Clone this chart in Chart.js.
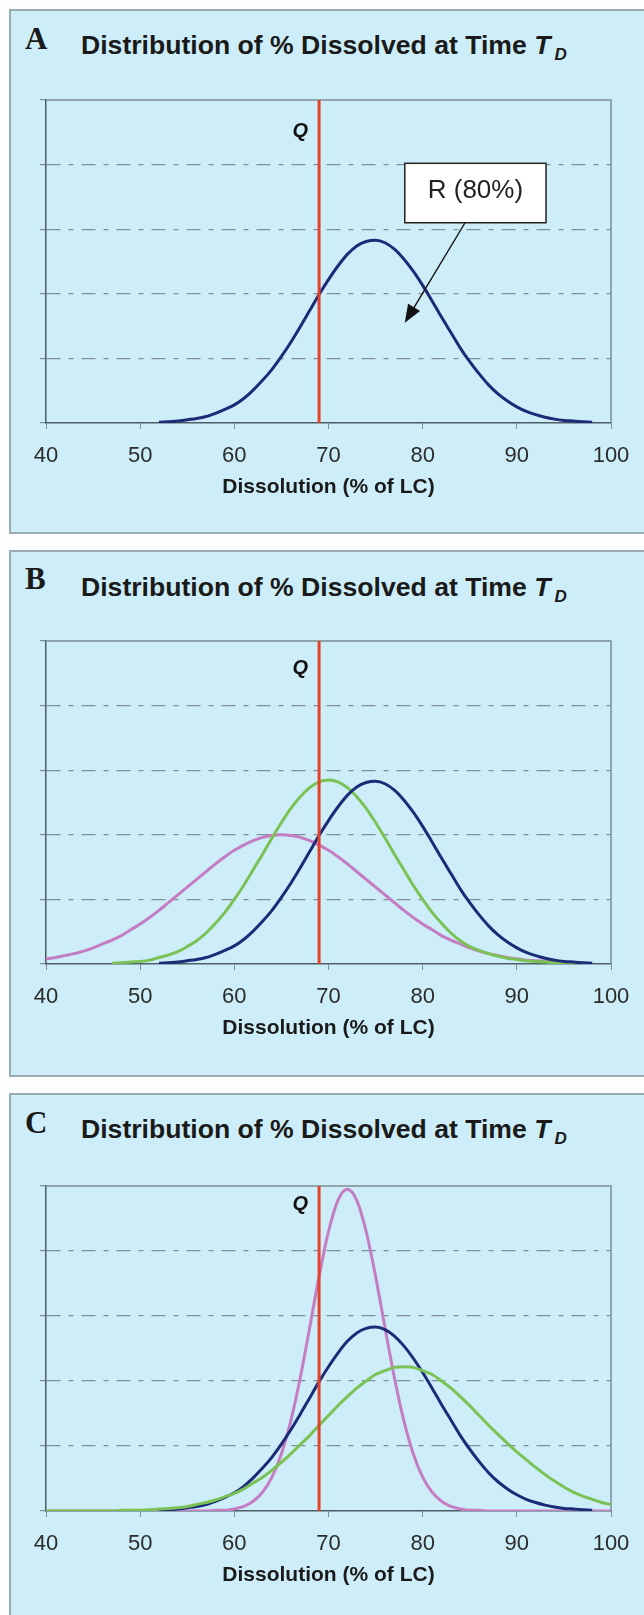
<!DOCTYPE html>
<html>
<head>
<meta charset="utf-8">
<script src="https://cdn.jsdelivr.net/npm/chart.js@4.4.1/dist/chart.umd.min.js"></script>
<style>
  html, body { margin: 0; padding: 0; background: #fbfdfe; overflow: hidden; }
  body { width: 644px; height: 1615px; position: relative; }
  .panel { position: absolute; left: 9px; width: 660px; background: #cdeef8; border: 2px solid #9aabb2; box-sizing: border-box; }
  .letter { position: absolute; left: 25px; font: bold 31px "Liberation Serif", "Times New Roman", serif; line-height: 1; color: #1a1a1a; }
  .title { position: absolute; left: 81px; font: bold 26.6px "Liberation Sans", Arial, sans-serif; line-height: 1; color: #1a1a1a; white-space: nowrap; }
  .title .t { font-style: italic; }
  .title .sub { font-style: italic; font-size: 17px; position: relative; top: 6px; margin-left: 4px; }
  canvas { position: absolute; left: 0; }
</style>
</head>
<body>
<div class="panel" style="top:9px;height:525px"></div>
<div class="panel" style="top:550px;height:527px"></div>
<div class="panel" style="top:1093px;height:560px"></div>

<div class="letter" style="top:23px">A</div>
<div class="title" style="top:32px">Distribution of % Dissolved at Time <span class="t">T</span><span class="sub">D</span></div>
<div class="letter" style="top:563px">B</div>
<div class="title" style="top:574px">Distribution of % Dissolved at Time <span class="t">T</span><span class="sub">D</span></div>
<div class="letter" style="top:1107px">C</div>
<div class="title" style="top:1116px">Distribution of % Dissolved at Time <span class="t">T</span><span class="sub">D</span></div>

<canvas id="chartA" width="644" height="525" style="top:9px"></canvas>
<canvas id="chartB" width="644" height="527" style="top:550px"></canvas>
<canvas id="chartC" width="644" height="522" style="top:1093px"></canvas>

<script>
// dissolution (% of LC), one sample per unit
const dissolution = [40,41,42,43,44,45,46,47,48,49,50,51,52,53,54,55,56,57,58,59,60,61,62,63,64,65,66,67,68,69,70,71,72,73,74,75,76,77,78,79,80,81,82,83,84,85,86,87,88,89,90,91,92,93,94,95,96,97,98,99,100];

// reference product (blue), same in all three panels
const refBlue = [null,null,null,null,null,null,null,null,null,null,null,null,
  0.01,0.02,0.03,0.05,0.07,0.10,0.15,0.21,0.28,0.38,0.51,0.66,0.83,1.03,1.25,1.49,1.74,1.99,
  2.22,2.43,2.61,2.74,2.81,2.83,2.79,2.69,2.54,2.35,2.13,1.89,1.64,1.40,1.16,0.95,0.76,0.59,
  0.45,0.34,0.25,0.18,0.13,0.09,0.06,0.04,0.03,0.02,0.01,null,null];

// panel B
const greenB = [null,null,null,null,null,null,null,
  0.01,0.02,0.03,0.04,0.06,0.10,0.14,0.19,0.27,0.36,0.48,0.63,0.80,1.00,1.22,1.46,1.70,1.95,
  2.19,2.41,2.59,2.73,2.82,2.85,2.82,2.73,2.59,2.41,2.19,1.95,1.70,1.46,1.22,1.00,0.80,0.63,
  0.48,0.36,0.27,0.21,0.16,0.12,0.09,0.07,0.05,0.04,0.03,0.02,0.02,0.01,0.01,null,null,null];
const pinkB = [0.08,0.10,0.13,0.16,0.20,0.25,0.31,0.37,0.44,0.53,0.62,0.72,0.83,0.95,1.07,1.19,
  1.31,1.43,1.55,1.66,1.76,1.84,1.91,1.96,1.99,2.00,1.99,1.96,1.91,1.84,1.76,1.66,1.55,1.43,
  1.31,1.19,1.07,0.95,0.83,0.72,0.62,0.53,0.44,0.37,0.31,0.25,0.20,0.16,0.13,0.10,0.08,0.06,
  0.05,0.04,0.03,0.02,0.02,0.01,0.01,null,null];

// panel C
const greenC = [0,0,0,0,0,0,0,0,
  0.01,0.01,0.01,0.02,0.03,0.04,0.05,0.07,0.10,0.13,0.17,0.22,0.27,0.34,0.43,0.52,0.63,0.75,
  0.88,1.02,1.16,1.32,1.47,1.62,1.76,1.89,2.00,2.10,2.16,2.21,2.22,2.21,2.16,2.10,2.00,1.89,
  1.76,1.62,1.47,1.32,1.18,1.04,0.91,0.79,0.67,0.56,0.46,0.37,0.29,0.23,0.18,0.13,0.10];
const pinkC = [0,0,0,0,0,0,0,0,0,0,0,0,0,0,0,0,0,
  0,0.01,0.01,0.03,0.07,0.15,0.29,0.52,0.88,1.39,2.05,2.82,3.61,4.30,4.78,4.95,4.78,4.30,
  3.61,2.82,2.05,1.39,0.88,0.52,0.29,0.15,0.07,0.03,0.01,0.01,
  0,0,0,0,0,0,0,0,0,0,0,0,0,0];

const qLimit = 69;
const blue = '#1c2b78', green = '#7ac255', pink = '#c47cc2', red = '#e4412b';
const font = '"Liberation Sans", Arial, sans-serif';

const panelNotes = {
  id: 'panelNotes',
  beforeDatasetsDraw(chart) {
    const { ctx, chartArea: a } = chart;
    ctx.save();
    ctx.strokeStyle = '#7d8d94';
    ctx.lineWidth = 1.5;
    ctx.beginPath();
    ctx.moveTo(a.left, a.top);
    ctx.lineTo(a.right, a.top);
    ctx.lineTo(a.right, a.bottom);
    ctx.stroke();
    ctx.restore();
  },
  afterDatasetsDraw(chart, args, opts) {
    const { ctx, scales: { x, y } } = chart;
    ctx.save();
    ctx.fillStyle = '#111';
    ctx.font = 'italic bold 20px ' + font;
    ctx.textAlign = 'center';
    ctx.textBaseline = 'middle';
    ctx.fillText('Q', x.getPixelForValue(opts.qX), y.getPixelForValue(opts.qY));

    const b = opts.box;
    if (b) {
      const fx = x.getPixelForValue(b.from[0]), fy = y.getPixelForValue(b.from[1]);
      const tx = x.getPixelForValue(b.to[0]), ty = y.getPixelForValue(b.to[1]);
      const ang = Math.atan2(ty - fy, tx - fx);
      ctx.strokeStyle = '#111';
      ctx.lineWidth = 1.4;
      ctx.beginPath();
      ctx.moveTo(fx, fy);
      ctx.lineTo(tx - 12 * Math.cos(ang), ty - 12 * Math.sin(ang));
      ctx.stroke();
      ctx.beginPath();
      ctx.moveTo(tx, ty);
      ctx.lineTo(tx - 18 * Math.cos(ang) + 7 * Math.sin(ang), ty - 18 * Math.sin(ang) - 7 * Math.cos(ang));
      ctx.lineTo(tx - 18 * Math.cos(ang) - 7 * Math.sin(ang), ty - 18 * Math.sin(ang) + 7 * Math.cos(ang));
      ctx.closePath();
      ctx.fillStyle = '#111';
      ctx.fill();

      const x0 = x.getPixelForValue(b.x0), x1 = x.getPixelForValue(b.x1);
      const y0 = y.getPixelForValue(b.y1), y1 = y.getPixelForValue(b.y0);
      ctx.fillStyle = '#fff';
      ctx.fillRect(x0, y0, x1 - x0, y1 - y0);
      ctx.lineWidth = 1.5;
      ctx.strokeStyle = '#222';
      ctx.strokeRect(x0, y0, x1 - x0, y1 - y0);
      ctx.fillStyle = '#222';
      ctx.font = '26px ' + font;
      ctx.fillText(b.text, (x0 + x1) / 2, (y0 + y1) / 2 - 2);
    }
    ctx.restore();
  }
};

function curve(color, values) {
  return {
    data: dissolution.map((d, i) => ({ x: d, y: values[i] })),
    borderColor: color,
    borderWidth: 3,
    pointRadius: 0,
    fill: false,
    cubicInterpolationMode: 'monotone'
  };
}

function drawPanel(id, curves, pad, notes) {
  const datasets = [{
    data: [{ x: qLimit, y: 0 }, { x: qLimit, y: 5 }],
    borderColor: red,
    borderWidth: 3,
    pointRadius: 0
  }];
  curves.forEach(c => datasets.push(curve(c[0], c[1])));

  new Chart(document.getElementById(id), {
    type: 'line',
    data: { datasets: datasets },
    plugins: [panelNotes],
    options: {
      responsive: false,
      animation: false,
      devicePixelRatio: 1,
      layout: { padding: pad },
      plugins: {
        legend: { display: false },
        tooltip: { enabled: false },
        panelNotes: notes
      },
      scales: {
        x: {
          type: 'linear',
          min: 40,
          max: 100,
          afterFit: s => { s.height = 80; },
          ticks: { stepSize: 10, color: '#2b2b2b', padding: 14, font: { family: font, size: 22 } },
          grid: { drawOnChartArea: false, tickLength: 6, tickColor: '#7d8d94' },
          border: { color: '#4f5d64', width: 1.5 },
          title: {
            display: true,
            text: 'Dissolution (% of LC)',
            color: '#1a1a1a',
            font: { family: font, size: 21, weight: 'bold' },
            padding: { top: 0, bottom: 3 }
          }
        },
        y: {
          min: 0,
          max: 5,
          afterFit: s => { s.width = 10; },
          ticks: { stepSize: 1, display: false },
          grid: {
            color: c => (c.tick && (c.tick.value === 0 || c.tick.value === 5)) ? 'rgba(0,0,0,0)' : '#7f909a',
            lineWidth: 1.2,
            tickLength: 6,
            tickColor: '#7d8d94'
          },
          border: { color: '#4f5d64', width: 1.5, dash: [14, 8, 5, 8] }
        }
      }
    }
  });
}

drawPanel('chartA', [[blue, refBlue]], { left: 36, right: 33, top: 91, bottom: 31 }, {
  qX: 67, qY: 4.52,
  box: { x0: 78.1, x1: 93.1, y0: 3.1, y1: 4.02, text: 'R (80%)', from: [84.5, 3.1], to: [78.1, 1.55] }
});
drawPanel('chartB', [[blue, refBlue], [green, greenB], [pink, pinkB]], { left: 36, right: 33, top: 91, bottom: 33 }, {
  qX: 67, qY: 4.58
});
drawPanel('chartC', [[green, greenC], [blue, refBlue], [pink, pinkC]], { left: 36, right: 33, top: 93, bottom: 24 }, {
  qX: 67, qY: 4.72
});
</script>
</body>
</html>
